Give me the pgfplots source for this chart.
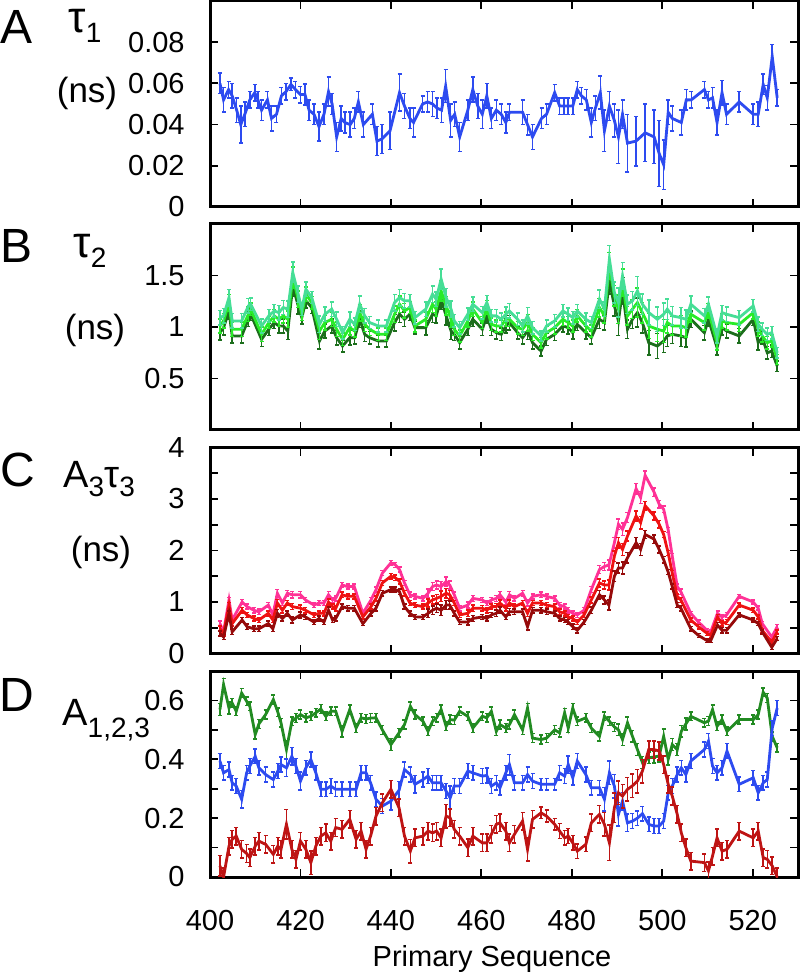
\documentclass[border=0pt]{standalone}
\usepackage{pgfplots}
\pgfplotsset{compat=1.18}
\usepackage{pgfplotstable}
\usepackage{fontspec}
\setmainfont{Liberation Sans}

\definecolor{cA}{RGB}{45,75,240}
\definecolor{gT}{RGB}{70,222,150}
\definecolor{gM}{RGB}{40,235,40}
\definecolor{gB}{RGB}{28,110,28}
\definecolor{rT}{RGB}{255,50,150}
\definecolor{rM}{RGB}{238,18,18}
\definecolor{rB}{RGB}{150,10,10}
\definecolor{dG}{RGB}{34,139,34}
\definecolor{dB}{RGB}{45,75,240}
\definecolor{dR}{RGB}{190,20,20}

\pgfplotstableread{
x y e
402.2 0.060 0.005
403.0 0.052 0.006
404.1 0.057 0.004
404.9 0.054 0.006
405.9 0.047 0.006
406.8 0.040 0.009
407.7 0.045 0.006
408.8 0.052 0.004
409.9 0.0555 0.004
410.6 0.052 0.004
411.4 0.047 0.005
412.7 0.052 0.004
413.6 0.043 0.006
414.7 0.045 0.004
415.8 0.054 0.004
416.8 0.056 0.004
417.9 0.0595 0.003
418.9 0.057 0.004
420.0 0.0546 0.004
421.0 0.0546 0.005
421.9 0.047 0.005
423.0 0.045 0.005
424.1 0.039 0.007
425.2 0.045 0.005
426.2 0.056 0.007
427.0 0.050 0.005
428.0 0.034 0.007
429.0 0.043 0.006
429.8 0.041 0.005
431.0 0.040 0.006
431.9 0.043 0.005
432.8 0.051 0.005
433.9 0.040 0.006
435.9 0.045 0.005
436.9 0.032 0.007
438.0 0.033 0.007
439.8 0.037 0.009
441.9 0.0555 0.009
443.0 0.049 0.006
444.2 0.043 0.005
445.0 0.041 0.007
447.0 0.050 0.004
448.1 0.051 0.005
449.2 0.050 0.006
450.2 0.048 0.005
451.2 0.047 0.006
452.1 0.0587 0.008
453.2 0.042 0.008
454.1 0.045 0.006
455.2 0.034 0.007
457.0 0.047 0.005
458.1 0.057 0.006
459.2 0.049 0.006
460.2 0.045 0.007
461.2 0.054 0.006
462.2 0.043 0.005
463.3 0.047 0.005
464.4 0.045 0.005
465.4 0.041 0.005
466.2 0.046 0.004
469.1 0.046 0.006
470.2 0.040 0.005
471.3 0.034 0.006
473.3 0.043 0.005
474.4 0.045 0.005
476.2 0.0555 0.004
477.3 0.049 0.004
478.3 0.049 0.004
479.2 0.049 0.004
480.2 0.049 0.004
481.2 0.057 0.004
482.1 0.054 0.004
483.2 0.052 0.005
484.3 0.041 0.007
485.2 0.048 0.006
486.3 0.0555 0.008
487.2 0.037 0.010
488.3 0.049 0.007
489.4 0.042 0.008
490.3 0.034 0.013
491.2 0.045 0.007
492.3 0.031 0.014
494.2 0.032 0.012
496.2 0.036 0.014
498.2 0.034 0.013
499.3 0.026 0.016
500.3 0.0205 0.012
501.3 0.046 0.006
502.2 0.043 0.006
504.2 0.041 0.006
505.3 0.052 0.005
506.4 0.052 0.004
509.3 0.057 0.004
510.2 0.052 0.004
511.1 0.053 0.005
512.1 0.041 0.006
513.2 0.0555 0.006
514.2 0.045 0.005
517.0 0.051 0.005
520.1 0.045 0.005
521.2 0.045 0.006
522.3 0.0595 0.005
523.2 0.053 0.006
524.3 0.073 0.006
525.4 0.053 0.004
}\tabA

\pgfplotstableread{
x t m b e
402.2 1.090 1.010 0.945 0.07
403.0 1.108 1.059 0.994 0.07
404.2 1.286 1.237 1.156 0.08
404.9 1.059 0.978 0.913 0.07
407.0 1.059 0.978 0.913 0.07
408.5 1.205 1.124 1.075 0.07
409.0 1.221 1.173 1.124 0.06
411.4 1.010 0.929 0.880 0.07
413.0 1.108 1.043 0.978 0.06
414.2 1.156 1.108 1.043 0.06
415.2 1.140 1.075 1.010 0.07
416.2 1.189 1.108 1.010 0.07
417.2 1.173 1.075 0.961 0.08
418.3 1.530 1.481 1.400 0.10
419.5 1.319 1.270 1.205 0.08
420.3 1.173 1.124 1.091 0.06
421.2 1.367 1.319 1.254 0.07
422.5 1.286 1.237 1.189 0.06
424.2 1.026 0.961 0.864 0.08
425.4 1.124 1.043 0.961 0.07
426.9 1.173 1.075 1.010 0.07
428.0 1.075 0.978 0.896 0.07
429.3 0.945 0.880 0.815 0.06
430.9 1.075 0.994 0.896 0.07
432.0 1.026 0.961 0.896 0.06
433.1 1.221 1.140 1.075 0.08
434.2 1.108 1.026 0.929 0.07
435.3 1.043 0.978 0.896 0.06
437.2 1.010 0.929 0.864 0.06
439.0 1.010 0.929 0.864 0.06
440.8 1.237 1.124 1.043 0.08
441.9 1.286 1.221 1.124 0.08
443.0 1.254 1.156 1.075 0.07
444.2 1.254 1.189 1.124 0.06
445.3 1.091 1.010 0.994 0.06
447.7 1.173 1.075 0.994 0.07
449.2 1.319 1.221 1.124 0.08
450.0 1.270 1.173 1.108 0.07
451.1 1.465 1.351 1.270 0.10
452.2 1.286 1.205 1.108 0.09
453.3 1.173 1.075 0.961 0.08
454.0 1.059 0.978 0.929 0.06
455.2 0.994 0.913 0.848 0.06
457.0 1.124 1.059 0.978 0.06
458.1 1.221 1.173 1.075 0.07
460.2 1.140 1.043 0.978 0.06
461.2 1.237 1.189 1.108 0.07
462.2 1.108 1.026 0.978 0.06
463.3 1.108 1.010 0.945 0.06
464.4 1.075 1.010 0.929 0.06
465.4 1.124 1.075 1.010 0.07
466.2 1.156 1.075 1.043 0.07
468.0 1.075 0.994 0.945 0.06
469.1 1.010 0.978 0.896 0.06
470.2 1.108 1.043 0.961 0.08
471.3 0.994 0.929 0.848 0.06
473.2 0.913 0.848 0.766 0.05
474.4 1.010 0.945 0.880 0.06
476.2 1.059 0.994 0.929 0.06
478.0 1.156 1.075 1.010 0.06
479.2 1.124 1.043 0.994 0.06
480.2 1.091 1.010 0.945 0.06
481.2 1.156 1.108 1.026 0.06
483.1 1.075 1.010 0.945 0.06
484.3 1.043 0.961 0.896 0.06
486.1 1.270 1.189 1.075 0.09
487.2 1.173 1.108 1.043 0.07
488.3 1.660 1.595 1.449 0.13
489.4 1.335 1.303 1.205 0.10
490.3 1.237 1.173 1.059 0.14
491.2 1.497 1.432 1.351 0.13
492.3 1.221 1.108 0.978 0.09
493.4 1.254 1.173 1.075 0.09
494.5 1.351 1.237 1.140 0.14
495.6 1.221 1.140 1.043 0.10
497.0 1.140 1.010 0.848 0.12
498.9 1.075 0.978 0.815 0.12
500.3 1.124 0.961 0.864 0.11
501.1 1.173 1.043 0.913 0.10
502.2 1.108 1.010 0.929 0.09
504.1 1.091 1.010 0.913 0.10
505.2 1.075 0.994 0.896 0.09
506.3 1.221 1.124 1.075 0.08
509.3 1.108 1.043 0.945 0.07
510.2 1.221 1.156 1.075 0.07
512.1 0.913 0.848 0.799 0.07
513.2 1.140 1.059 0.994 0.07
514.2 1.124 1.043 0.961 0.07
517.0 1.091 1.026 0.913 0.07
520.1 1.205 1.140 1.075 0.06
521.2 1.026 0.978 0.848 0.07
522.1 0.978 0.913 0.896 0.06
523.2 0.929 0.848 0.750 0.06
524.2 0.945 0.864 0.766 0.06
525.4 0.750 0.685 0.620 0.05
}\tabB

\pgfplotstableread{
x t m b e
402.2 0.58 0.48 0.39 0.05
403.0 0.42 0.39 0.32 0.05
404.2 1.04 0.94 0.78 0.05
404.9 0.65 0.58 0.42 0.05
407.1 1.00 0.84 0.65 0.05
408.2 0.91 0.75 0.52 0.05
409.7 0.84 0.68 0.48 0.05
410.8 0.81 0.65 0.48 0.05
412.9 0.94 0.78 0.58 0.05
413.9 0.75 0.65 0.48 0.05
414.9 1.17 0.98 0.78 0.07
416.0 0.98 0.84 0.68 0.05
417.1 1.17 0.98 0.78 0.05
418.2 1.14 0.91 0.65 0.06
420.0 1.14 0.88 0.75 0.06
421.1 1.04 0.84 0.71 0.05
423.0 0.94 0.75 0.61 0.05
424.1 0.98 0.78 0.68 0.05
425.2 0.98 0.78 0.61 0.05
426.2 1.14 1.00 0.84 0.06
427.1 1.04 0.91 0.65 0.05
427.8 1.07 0.88 0.68 0.05
429.2 1.33 1.14 0.91 0.05
430.4 1.30 1.11 0.88 0.05
431.9 1.30 1.11 0.88 0.05
433.8 0.78 0.71 0.58 0.04
435.6 1.04 0.91 0.78 0.05
436.7 1.24 1.07 0.88 0.05
438.1 1.56 1.37 1.17 0.05
440.0 1.76 1.50 1.24 0.05
441.0 1.72 1.47 1.24 0.05
441.9 1.63 1.40 1.20 0.05
443.0 1.37 1.17 0.91 0.05
444.2 1.14 0.98 0.78 0.05
445.3 1.11 0.94 0.71 0.05
447.1 1.07 0.91 0.71 0.05
448.2 1.17 0.98 0.78 0.08
449.2 1.30 1.04 0.84 0.08
450.1 1.33 1.07 0.88 0.08
451.1 1.30 1.11 0.84 0.10
452.2 1.40 1.17 0.94 0.09
453.0 1.33 1.14 0.94 0.08
454.0 1.14 0.98 0.78 0.05
455.2 0.88 0.75 0.61 0.05
457.0 0.94 0.78 0.61 0.06
458.1 1.07 0.88 0.68 0.06
460.2 1.04 0.88 0.71 0.05
461.2 0.98 0.84 0.68 0.05
462.2 1.04 0.91 0.75 0.05
463.3 1.07 0.91 0.78 0.06
464.1 1.14 0.98 0.84 0.06
465.4 1.00 0.88 0.71 0.05
466.2 1.14 0.98 0.81 0.06
467.3 1.07 0.91 0.81 0.05
469.1 1.17 0.98 0.81 0.05
470.2 0.98 0.78 0.52 0.06
471.3 1.11 0.98 0.84 0.05
473.2 1.14 0.98 0.84 0.05
474.4 1.11 0.94 0.81 0.05
476.2 1.07 0.91 0.78 0.05
477.3 0.94 0.81 0.68 0.05
478.4 0.91 0.78 0.65 0.05
479.2 0.84 0.71 0.61 0.05
480.2 0.78 0.68 0.52 0.05
481.2 0.75 0.61 0.45 0.05
482.7 0.84 0.75 0.61 0.05
484.3 1.24 1.04 0.84 0.06
486.1 1.63 1.37 1.14 0.08
487.2 1.69 1.33 1.04 0.08
488.2 1.72 1.33 0.94 0.10
489.4 2.15 1.89 1.50 0.10
490.3 2.51 2.15 1.66 0.10
491.2 2.41 2.02 1.66 0.12
492.3 2.64 2.28 1.86 0.10
494.2 3.20 2.67 2.15 0.10
495.2 3.03 2.54 2.02 0.12
496.2 3.46 2.87 2.31 0.08
498.2 3.13 2.67 2.22 0.08
499.3 2.90 2.51 2.02 0.07
500.3 2.80 2.31 1.82 0.06
501.3 2.40 1.95 1.58 0.05
502.2 1.89 1.56 1.30 0.05
503.3 1.30 1.11 0.94 0.05
504.1 1.20 1.04 0.88 0.05
506.3 0.78 0.65 0.48 0.04
508.0 0.61 0.52 0.35 0.04
509.9 0.45 0.39 0.25 0.04
510.7 0.42 0.35 0.25 0.04
512.2 0.78 0.71 0.55 0.05
513.2 0.71 0.58 0.45 0.05
514.2 0.75 0.61 0.45 0.05
517.0 1.11 0.94 0.75 0.04
520.1 1.00 0.84 0.65 0.04
521.2 0.88 0.71 0.58 0.04
522.1 0.58 0.45 0.42 0.04
524.2 0.32 0.22 0.12 0.04
525.4 0.52 0.42 0.29 0.04
}\tabC

\pgfplotstableread{
x g b r eg eb er
402.2 0.569 0.394 0.038 0.020 0.025 0.035
403.0 0.654 0.354 0.000 0.020 0.025 0.030
404.2 0.574 0.365 0.105 0.020 0.025 0.030
404.9 0.591 0.320 0.128 0.015 0.025 0.030
405.8 0.563 0.309 0.139 0.015 0.025 0.030
407.0 0.625 0.264 0.094 0.015 0.030 0.030
408.1 0.597 0.354 0.080 0.015 0.025 0.030
408.8 0.580 0.377 0.066 0.015 0.025 0.030
410.0 0.484 0.410 0.105 0.015 0.025 0.030
410.8 0.520 0.371 0.122 0.015 0.025 0.030
412.3 0.552 0.348 0.111 0.015 0.025 0.030
414.0 0.603 0.331 0.077 0.015 0.025 0.030
415.0 0.560 0.360 0.105 0.015 0.025 0.030
415.7 0.524 0.382 0.094 0.015 0.025 0.030
416.9 0.433 0.371 0.179 0.030 0.030 0.050
418.1 0.529 0.410 0.094 0.015 0.030 0.030
419.0 0.540 0.377 0.060 0.015 0.025 0.030
420.0 0.552 0.326 0.122 0.015 0.030 0.030
421.2 0.541 0.371 0.094 0.015 0.025 0.030
422.3 0.546 0.399 0.049 0.015 0.025 0.040
423.4 0.558 0.354 0.105 0.015 0.025 0.030
424.5 0.571 0.298 0.139 0.015 0.025 0.030
425.6 0.546 0.298 0.150 0.015 0.025 0.030
426.7 0.563 0.309 0.122 0.015 0.025 0.030
427.8 0.563 0.298 0.168 0.015 0.025 0.030
429.2 0.495 0.298 0.162 0.020 0.025 0.030
430.9 0.569 0.298 0.196 0.015 0.025 0.030
432.3 0.506 0.298 0.128 0.015 0.025 0.030
433.4 0.541 0.354 0.156 0.015 0.025 0.030
434.5 0.537 0.354 0.094 0.015 0.025 0.030
435.5 0.540 0.320 0.139 0.015 0.025 0.030
436.7 0.541 0.264 0.207 0.015 0.025 0.030
438.1 0.500 0.241 0.252 0.015 0.025 0.030
440.0 0.450 0.258 0.298 0.020 0.030 0.030
441.8 0.490 0.295 0.235 0.015 0.030 0.030
443.0 0.518 0.365 0.139 0.015 0.025 0.030
444.3 0.580 0.348 0.088 0.015 0.025 0.040
445.3 0.552 0.315 0.133 0.015 0.030 0.030
447.1 0.529 0.331 0.139 0.015 0.025 0.030
448.2 0.495 0.343 0.156 0.015 0.025 0.030
449.2 0.529 0.320 0.150 0.015 0.025 0.030
450.1 0.541 0.320 0.156 0.015 0.025 0.030
451.1 0.569 0.320 0.133 0.015 0.025 0.030
452.2 0.512 0.292 0.207 0.015 0.025 0.040
453.1 0.535 0.269 0.201 0.015 0.040 0.030
454.0 0.533 0.309 0.162 0.015 0.025 0.030
455.2 0.563 0.309 0.139 0.015 0.025 0.030
457.0 0.546 0.360 0.100 0.015 0.025 0.030
458.1 0.506 0.354 0.139 0.015 0.025 0.030
460.2 0.546 0.343 0.116 0.015 0.025 0.030
461.2 0.541 0.345 0.116 0.015 0.025 0.030
462.2 0.563 0.309 0.145 0.015 0.025 0.030
463.3 0.495 0.320 0.179 0.015 0.025 0.030
464.1 0.518 0.303 0.184 0.015 0.025 0.030
465.4 0.506 0.354 0.156 0.015 0.025 0.030
466.2 0.518 0.382 0.116 0.015 0.035 0.030
467.3 0.552 0.320 0.145 0.015 0.025 0.030
469.1 0.500 0.320 0.190 0.015 0.025 0.030
470.2 0.574 0.348 0.094 0.015 0.025 0.040
471.3 0.472 0.326 0.196 0.015 0.025 0.030
473.2 0.467 0.315 0.218 0.015 0.020 0.020
474.4 0.472 0.315 0.207 0.015 0.020 0.020
476.2 0.500 0.315 0.179 0.015 0.020 0.020
477.3 0.490 0.354 0.156 0.015 0.025 0.025
478.4 0.558 0.343 0.133 0.015 0.025 0.025
479.2 0.506 0.382 0.139 0.015 0.030 0.025
480.2 0.574 0.337 0.116 0.015 0.025 0.025
481.2 0.529 0.394 0.088 0.015 0.025 0.025
483.1 0.541 0.348 0.111 0.015 0.025 0.025
484.3 0.506 0.303 0.184 0.015 0.025 0.030
486.1 0.478 0.303 0.213 0.015 0.025 0.030
487.2 0.546 0.264 0.179 0.015 0.040 0.040
488.3 0.529 0.354 0.116 0.015 0.040 0.060
489.4 0.510 0.309 0.235 0.015 0.040 0.050
490.3 0.500 0.213 0.286 0.020 0.040 0.040
491.2 0.467 0.258 0.275 0.020 0.030 0.040
492.3 0.524 0.184 0.298 0.020 0.030 0.040
493.4 0.478 0.190 0.310 0.020 0.025 0.040
494.5 0.433 0.200 0.326 0.020 0.025 0.040
495.6 0.389 0.215 0.360 0.020 0.025 0.040
497.0 0.405 0.179 0.433 0.020 0.025 0.030
498.2 0.408 0.173 0.433 0.020 0.025 0.030
499.3 0.411 0.173 0.428 0.020 0.025 0.030
500.3 0.478 0.190 0.382 0.025 0.025 0.030
501.3 0.400 0.286 0.315 0.020 0.025 0.030
502.2 0.450 0.309 0.275 0.020 0.025 0.030
503.3 0.433 0.348 0.213 0.020 0.025 0.030
504.2 0.495 0.371 0.150 0.020 0.025 0.030
505.2 0.520 0.348 0.100 0.020 0.025 0.030
506.3 0.546 0.394 0.054 0.015 0.025 0.030
509.3 0.524 0.433 0.049 0.015 0.025 0.030
510.2 0.530 0.462 0.021 0.015 0.025 0.030
511.1 0.569 0.377 0.071 0.015 0.025 0.030
512.1 0.512 0.354 0.133 0.015 0.025 0.030
513.2 0.535 0.371 0.088 0.015 0.025 0.030
514.3 0.495 0.428 0.094 0.015 0.025 0.030
517.0 0.535 0.315 0.156 0.015 0.025 0.030
520.1 0.535 0.337 0.133 0.015 0.025 0.030
521.2 0.552 0.286 0.156 0.015 0.025 0.030
522.3 0.628 0.320 0.066 0.015 0.025 0.030
523.2 0.608 0.331 0.060 0.015 0.025 0.030
524.3 0.478 0.506 0.038 0.015 0.025 0.030
525.4 0.439 0.574 0.000 0.015 0.025 0.030
}\tabD

\newcommand{\tickfont}{\fontsize{14.5}{16.5}\selectfont}
\newcommand{\labfont}{\fontsize{17.5}{18}\selectfont}
\newcommand{\panelfont}{\fontsize{24}{24}\selectfont}

\pgfplotsset{
  panel/.style={
    width=294pt, height=103pt, scale only axis,
    xmin=400, xmax=530, xtick={400,420,440,460,480,500,520},
    tick align=inside, major tick length=4pt, minor tick length=4pt,
    axis line style={line width=1.5pt},
    every tick/.style={black, line width=0.9pt},
    every minor tick/.style={black, line width=0.9pt},
    scaled ticks=false,
    yticklabel={\tickfont\pgfmathprintnumber[fixed, precision=2, assume math mode=true]{\tick}},
    xticklabel={\tickfont\pgfmathprintnumber[fixed, precision=0, assume math mode=true]{\tick}},
    yticklabel style={inner sep=0pt, anchor=east, xshift=-12.5pt},
    xticklabel style={inner sep=0pt, anchor=north, yshift=-16.5pt},
    anchor=north west,
  },
  ser/.style={line width=1.4pt, color=#1, mark=none,
    error bars/.cd, y dir=both, y explicit,
    error bar style={line width=0.75pt, #1},
    error mark options={rotate=90, mark size=1pt, line width=0.75pt, #1}},
}

\begin{document}
\begin{tikzpicture}
\useasboundingbox (0,0) rectangle (400pt,-488.5pt);

% Panel A
\begin{axis}[panel, at={(105pt,-0.5pt)}, ymin=0, ymax=0.1,
  ytick={0,0.02,0.04,0.06,0.08}, xticklabels={}]
\addplot[ser=cA] table[x=x, y=y, y error=e] {\tabA};
\end{axis}

% Panel B
\begin{axis}[panel, at={(105pt,-112pt)}, ymin=0, ymax=2,
  ytick={0.5,1,1.5}, xticklabels={}]
\addplot[ser=gB] table[x=x, y=b, y error=e] {\tabB};
\addplot[ser=gM] table[x=x, y=m, y error=e] {\tabB};
\addplot[ser=gT] table[x=x, y=t, y error=e] {\tabB};
\end{axis}

% Panel C
\begin{axis}[panel, at={(105pt,-223.75pt)}, ymin=0, ymax=4,
  ytick={0,1,2,3,4}, minor ytick={0.5,1.5,2.5,3.5}, xticklabels={}]
\addplot[ser=rT] table[x=x, y=t, y error=e] {\tabC};
\addplot[ser=rM] table[x=x, y=m, y error=e] {\tabC};
\addplot[ser=rB] table[x=x, y=b, y error=e] {\tabC};
\end{axis}

% Panel D
\begin{axis}[panel, at={(105pt,-335.5pt)}, ymin=0, ymax=0.7,
  ytick={0,0.2,0.4,0.6}, minor ytick={0.1,0.3,0.5},
  xlabel={Primary Sequence},
  xlabel style={font=\fontsize{14.5}{16}\selectfont, at={(axis description cs:0.5,0)}, anchor=center, yshift=-41pt, xshift=-6pt}]
\addplot[ser=dG] table[x=x, y=g, y error=eg] {\tabD};
\addplot[ser=dB] table[x=x, y=b, y error=eb] {\tabD};
\addplot[ser=dR] table[x=x, y=r, y error=er] {\tabD};
\end{axis}

% Panel letters and labels
\node[anchor=center, inner sep=0pt] at (8.5pt,-13.5pt) {\panelfont A};
\node[anchor=base west, inner sep=0pt] at (34pt,-16.5pt) {\fontsize{22}{22}\selectfont τ\raisebox{-5pt}{\fontsize{14}{14}\selectfont 1}};
\node[anchor=center, inner sep=0pt] at (43.5pt,-46.5pt) {\labfont (ns)};

\node[anchor=center, inner sep=0pt] at (8.5pt,-123pt) {\panelfont B};
\node[anchor=base west, inner sep=0pt] at (36.5pt,-129pt) {\fontsize{22}{22}\selectfont τ\raisebox{-5pt}{\fontsize{14}{14}\selectfont 2}};
\node[anchor=center, inner sep=0pt] at (47.5pt,-165pt) {\labfont (ns)};

\node[anchor=center, inner sep=0pt] at (9pt,-235pt) {\panelfont C};
\node[anchor=base west, inner sep=0pt] at (31.5pt,-243.5pt) {\fontsize{19}{19}\selectfont A\raisebox{-5pt}{\fontsize{14}{14}\selectfont 3}τ\raisebox{-5pt}{\fontsize{14}{14}\selectfont 3}};
\node[anchor=center, inner sep=0pt] at (50.5pt,-276pt) {\labfont (ns)};

\node[anchor=center, inner sep=0pt] at (8.5pt,-347.5pt) {\panelfont D};
\node[anchor=base west, inner sep=0pt] at (31pt,-362.5pt) {\fontsize{19}{19}\selectfont A\raisebox{-6pt}{\fontsize{14}{14}\selectfont 1,2,3}};
\end{tikzpicture}
\end{document}
